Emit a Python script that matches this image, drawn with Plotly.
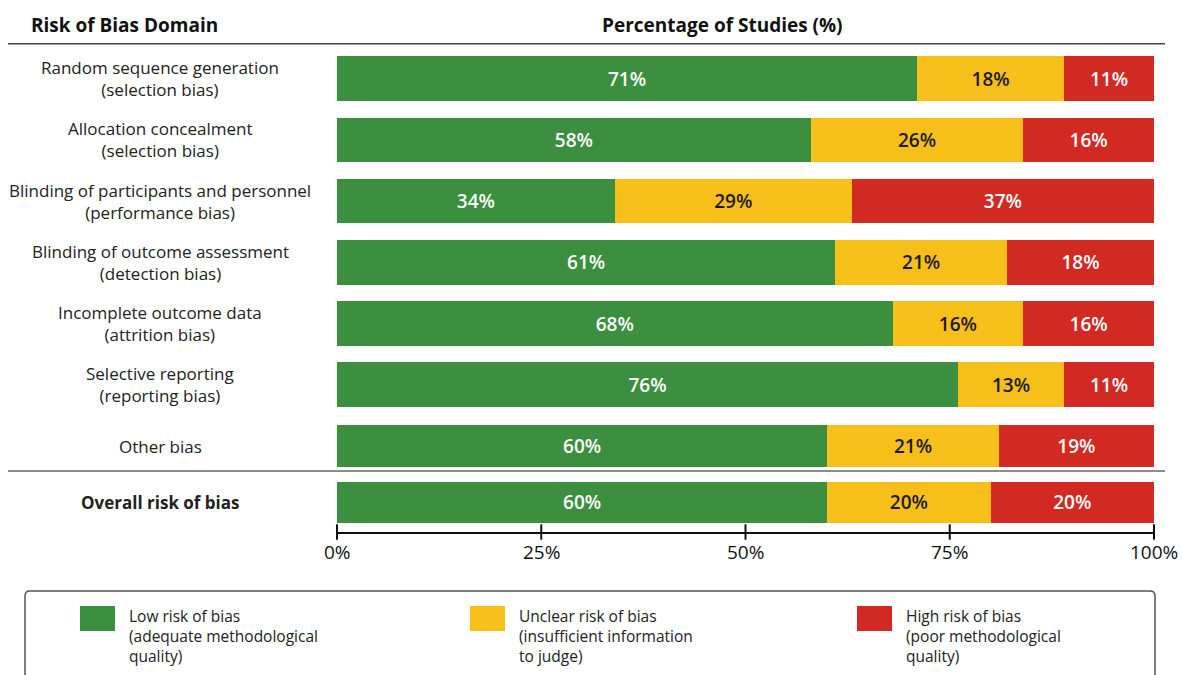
import plotly.graph_objects as go

# Risk-of-bias summary data (percent of studies per judgement)
domains = [
    "Random sequence generation<br>(selection bias)",
    "Allocation concealment<br>(selection bias)",
    "Blinding of participants and personnel<br>(performance bias)",
    "Blinding of outcome assessment<br>(detection bias)",
    "Incomplete outcome data<br>(attrition bias)",
    "Selective reporting<br>(reporting bias)",
    "Other bias",
    "<b>Overall risk of bias</b>",
]
low_risk = [71, 58, 34, 61, 68, 76, 60, 60]
unclear_risk = [18, 26, 29, 21, 16, 13, 21, 20]
high_risk = [11, 16, 37, 18, 16, 11, 19, 20]

tick_vals = [0, 25, 50, 75, 100]
tick_text = ["0%", "25%", "50%", "75%", "100%"]

legend_items = [
    ("Low risk of bias<br>(adequate methodological<br>quality)", "#3b8f3e"),
    ("Unclear risk of bias<br>(insufficient information<br>to judge)", "#f7bf19"),
    ("High risk of bias<br>(poor methodological<br>quality)", "#d22a22"),
]

GREEN, YELLOW, RED = "#3b8f3e", "#f7bf19", "#d22a22"
FONT = "Open Sans"

# Page geometry (pixels)
W, H = 1182, 675
X0, X1 = 337, 1154          # plot area left / right
Y_TOP, Y_BOT = 42.3, 532    # plot area top / bottom
Y_RANGE = [7.405, -0.6]

def px(xp):
    return (xp - X0) / (X1 - X0)

def py(yp):
    return (Y_BOT - yp) / (Y_BOT - Y_TOP)

# row positions: the overall row sits a little closer to the block above
ypos = [float(i) for i in range(len(domains) - 1)] + [6.915]

fig = go.Figure()

series = [
    ("Low", low_risk, GREEN, "white"),
    ("Unclear", unclear_risk, YELLOW, "#1a1a1a"),
    ("High", high_risk, RED, "white"),
]
for name, vals, color, tcolor in series:
    fig.add_trace(go.Bar(
        y=ypos, x=vals, orientation="h", name=name,
        marker=dict(color=color, line=dict(width=0)),
        width=[0.73] * 6 + [0.7, 0.67],
        text=[f"{v}%" for v in vals], textposition="inside",
        insidetextanchor="middle", constraintext="none",
        textfont=dict(family=FONT, size=19, color=tcolor, weight=600),
        showlegend=False, hoverinfo="skip",
    ))

# tick marks crossing the axis line
fig.add_trace(go.Scatter(
    x=tick_vals, y=[Y_RANGE[0]] * len(tick_vals), mode="markers",
    marker=dict(symbol="line-ns", size=11, line=dict(width=2, color="#111")),
    cliponaxis=False, showlegend=False, hoverinfo="skip",
))

fig.update_layout(
    barmode="stack",
    width=W, height=H,
    margin=dict(l=X0, r=W - X1, t=Y_TOP, b=H - Y_BOT, pad=0),
    paper_bgcolor="white", plot_bgcolor="white",
    bargap=0.25,
    xaxis=dict(
        range=[0, 100], showticklabels=False,
        showgrid=False, zeroline=False,
        showline=True, linecolor="#111", linewidth=2,
        ticks="", automargin=False, fixedrange=True,
    ),
    yaxis=dict(range=Y_RANGE, showticklabels=False, showgrid=False,
               zeroline=False, showline=False, automargin=False),
    font=dict(family=FONT),
)

annotations = []
# x tick labels on the x scale, below the axis line
for tv, tt in zip(tick_vals, tick_text):
    annotations.append(dict(x=tv, y=py(552), xref="x", yref="paper",
                            xanchor="center", yanchor="middle",
                            text=tt, showarrow=False,
                            font=dict(family=FONT, size=19, color="#111")))
# column headers
annotations.append(dict(x=px(125), y=py(25), xref="paper", yref="paper",
                        xanchor="center", yanchor="middle",
                        text="<b>Risk of Bias Domain</b>", showarrow=False,
                        font=dict(family=FONT, size=19, color="#111")))
annotations.append(dict(x=px(722), y=py(25), xref="paper", yref="paper",
                        xanchor="center", yanchor="middle",
                        text="<b>Percentage of Studies (%)</b>", showarrow=False,
                        font=dict(family=FONT, size=19, color="#111")))
# row labels
for lab, yv in zip(domains, ypos):
    annotations.append(dict(x=px(160), y=yv, xref="paper", yref="y",
                            xanchor="center", yanchor="middle",
                            text=lab, showarrow=False, align="center",
                            font=dict(family=FONT, size=17, color="#222")))

shapes = [
    dict(type="line", xref="paper", yref="paper", x0=px(8), x1=px(1165),
         y0=py(44), y1=py(44), line=dict(color="#444", width=1.5)),
    dict(type="line", xref="paper", yref="paper", x0=px(8), x1=px(1165),
         y0=py(471), y1=py(471), line=dict(color="#666", width=1.5)),
]

# legend box with rounded top corners
lx0, lx1, ly0, ly1, r = px(25), px(1155), py(591), py(700), 0.006
ry = r * (X1 - X0) / (Y_BOT - Y_TOP)
shapes.append(dict(
    type="path", xref="paper", yref="paper",
    path=(f"M {lx0},{ly1} L {lx0},{ly0 - ry} Q {lx0},{ly0} {lx0 + r},{ly0} "
          f"L {lx1 - r},{ly0} Q {lx1},{ly0} {lx1},{ly0 - ry} L {lx1},{ly1}"),
    line=dict(color="#555", width=1.5), fillcolor="rgba(0,0,0,0)",
))

for (text, color), sx in zip(legend_items, [80, 470, 857]):
    shapes.append(dict(type="rect", xref="paper", yref="paper",
                       x0=px(sx), x1=px(sx + 35), y0=py(606), y1=py(631),
                       fillcolor=color, line=dict(width=0)))
    annotations.append(dict(x=px(sx + 47), y=py(603), xref="paper", yref="paper",
                            text=text, showarrow=False, align="left",
                            xanchor="left", yanchor="top",
                            font=dict(family=FONT, size=15.5, color="#222")))

fig.update_layout(annotations=annotations, shapes=shapes)
fig.write_html("out.html")
